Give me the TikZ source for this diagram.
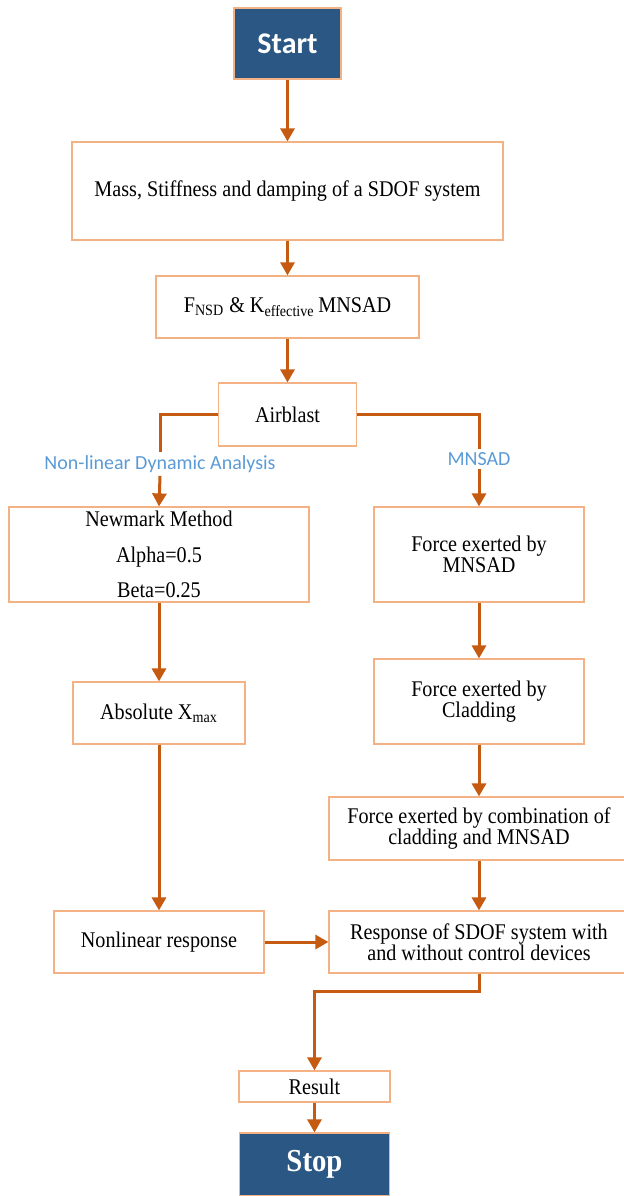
\documentclass[tikz,border=0pt]{standalone}
\usepackage{fontspec}
\setmainfont{Liberation Serif}[FakeStretch=0.9]
\newfontfamily\calibri{Carlito}
\usetikzlibrary{arrows.meta}

\definecolor{flowline}{RGB}{197,90,17}
\definecolor{boxedge}{RGB}{244,177,131}
\definecolor{termfill}{RGB}{42,87,132}
\definecolor{labelblue}{RGB}{91,155,213}

\tikzset{
  stepbox/.style={draw=boxedge, line width=0.6pt, fill=white, inner sep=0pt, align=center,
    font=\fontsize{11.2}{10.75}\selectfont},
  termbox/.style={draw=boxedge, line width=0.6pt, fill=termfill, text=white, inner sep=0pt},
  branchlabel/.style={text=labelblue, font=\calibri\fontsize{10}{12}\selectfont, inner sep=1.5pt},
  link/.style={draw=flowline, line width=1.5pt},
  flow/.style={link, -{Triangle[width=7pt,length=6.5pt]}},
}

\begin{document}
\begin{tikzpicture}[x=0.5pt, y=-0.5pt]
  \useasboundingbox (0,0) rectangle (623,1196);

  % main column
  \node[termbox, minimum width=53.5pt, minimum height=35.5pt,
    font=\calibri\bfseries\fontsize{15}{18}\selectfont] (start) at (287.5,43.5) {Start};
  \node[stepbox, minimum width=215.5pt, minimum height=49pt] (mass) at (287.5,191)
    {Mass, Stiffness and damping of a SDOF system};
  \node[stepbox, minimum width=131.5pt, minimum height=31pt] (fnsd) at (287.5,307)
    {F\textsubscript{NSD} \& K\textsubscript{effective}\,MNSAD};
  \node[stepbox, minimum width=69pt, minimum height=31.5pt] (air) at (287.5,414.5) {Airblast};

  % branch labels
  \node[branchlabel] (nlda) at (160,464) {Non-linear Dynamic Analysis};
  \node[branchlabel] (mlbl) at (479,459) {MNSAD};

  % left branch
  \node[stepbox, minimum width=150pt, minimum height=47.5pt,
    font=\fontsize{11.2}{17.75}\selectfont] (newmark) at (159,554.5)
    {Newmark Method\\Alpha=0.5\\Beta=0.25};
  \node[stepbox, minimum width=86pt, minimum height=31pt] (absx) at (159,713)
    {Absolute X\textsubscript{max}};
  \node[stepbox, minimum width=105pt, minimum height=31pt] (nonlin) at (159,942)
    {Nonlinear response};

  % right branch
  \node[stepbox, minimum width=105pt, minimum height=47.5pt] (forcem) at (479,554.5)
    {Force exerted by\\MNSAD};
  \node[stepbox, minimum width=105pt, minimum height=42.5pt] (clad) at (479,701.5)
    {Force exerted by\\Cladding};
  \node[stepbox, minimum width=150pt, minimum height=31.5pt] (combo) at (479,828.5)
    {Force exerted by combination of\\cladding and MNSAD};
  \node[stepbox, minimum width=150pt, minimum height=31pt] (resp) at (479,942)
    {Response of SDOF system with\\and without control devices};

  % end
  \node[stepbox, minimum width=75.5pt, minimum height=15.5pt] (result) at (314.5,1086.5) {Result};
  \node[termbox, minimum width=75pt, minimum height=31.5pt,
    font=\bfseries\fontsize{16}{18}\selectfont] (stop) at (314.5,1164.5) {Stop};

  % connectors
  \draw[flow] (start) -- (mass);
  \draw[flow] (mass) -- (fnsd);
  \draw[flow] (fnsd) -- (air);
  \draw[link] (air.west) -| (nlda.north);
  \draw[link] (air.east) -| (mlbl.north);
  \draw[flow] (nlda.south) -- (newmark.north);
  \draw[flow] (mlbl.south) -- (forcem.north);
  \draw[flow] (newmark) -- (absx);
  \draw[flow] (absx) -- (nonlin);
  \draw[flow] (forcem) -- (clad);
  \draw[flow] (clad) -- (combo);
  \draw[flow] (combo) -- (resp);
  \draw[flow] (nonlin) -- (resp);
  \draw[flow] (resp.south) -- ++(0,18) -| (result.north);
  \draw[flow] (result) -- (stop);
\end{tikzpicture}
\end{document}
